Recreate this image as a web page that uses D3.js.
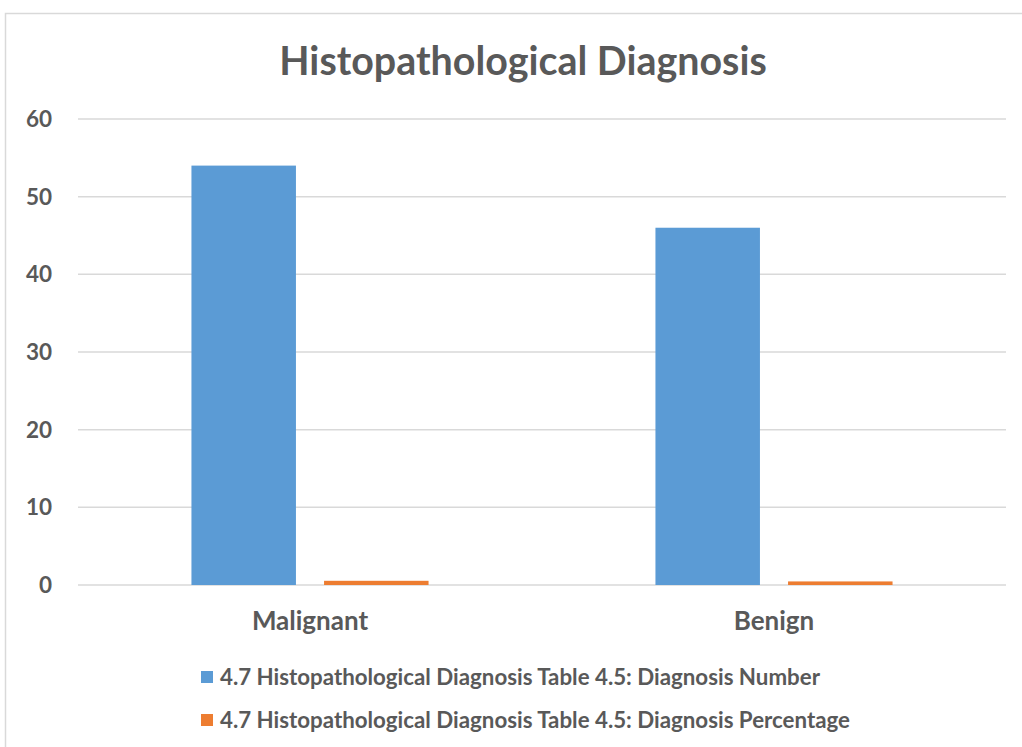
<!DOCTYPE html>
<html>
<head>
<meta charset="utf-8">
<script src="https://cdn.jsdelivr.net/npm/d3@7"></script>
<style>
  body { margin: 0; background: #fff; }
  text { font-family: Lato, "Open Sans", sans-serif; font-weight: bold; fill: #595959; }
</style>
</head>
<body>
<div id="chart"></div>
<script>
var categories = ["Malignant", "Benign"];
var seriesNames = [
    "4.7 Histopathological Diagnosis Table 4.5: Diagnosis Number",
    "4.7 Histopathological Diagnosis Table 4.5: Diagnosis Percentage"
];
var diagnosisNumber = [54, 46];
var diagnosisPercentage = [0.54, 0.46];
var yTicks = [0, 10, 20, 30, 40, 50, 60];
var colors = ["#5B9BD5", "#ED7D31"];

var width = 1022,
    height = 747;

var svg = d3.select("#chart").append("svg")
    .attr("width", width)
    .attr("height", height)

// chart frame
svg.append("rect")
    .attr("x", 5.5).attr("y", 13.5)
    .attr("width", 1030).attr("height", 760)
    .attr("fill", "none")
    .attr("stroke", "#d9d9d9")
    .attr("stroke-width", 1.5)

var plotLeft = 78, plotRight = 1006;

var y = d3.scaleLinear().domain([0, 60]).range([585, 119]);

var x0 = d3.scaleBand()
    .domain(categories)
    .range([plotLeft, plotRight])
    .paddingInner(0.489)
    .paddingOuter(0.2445);

var x1 = d3.scaleBand()
    .domain([0, 1])
    .range([0, x0.bandwidth()])
    .paddingInner(0.212)
    .paddingOuter(0);

// gridlines
svg.selectAll(".grid")
    .data(yTicks)
    .enter().append("line")
    .attr("class", "grid")
    .attr("x1", plotLeft).attr("x2", plotRight)
    .attr("y1", function (d) { return y(d) })
    .attr("y2", function (d) { return y(d) })
    .attr("stroke", "#d9d9d9")
    .attr("stroke-width", 1.5)

// y labels
svg.selectAll(".ylab")
    .data(yTicks)
    .enter().append("text")
    .attr("class", "ylab")
    .attr("x", 52)
    .attr("y", function (d) { return y(d) })
    .attr("dy", "0.35em")
    .attr("text-anchor", "end")
    .style("font-size", "22.5px")
    .text(function (d) { return d })

var rows = categories.map(function (c, i) {
    return { cat: c, values: [diagnosisNumber[i], diagnosisPercentage[i]] };
});

var groups = svg.selectAll(".group")
    .data(rows)
    .enter().append("g")
    .attr("class", "group")
    .attr("transform", function (d) { return "translate(" + x0(d.cat) + ",0)" })

groups.selectAll("rect")
    .data(function (d) { return d.values })
    .enter().append("rect")
    .attr("x", function (d, i) { return x1(i) })
    .attr("width", x1.bandwidth())
    .attr("y", function (d) { return y(d) })
    .attr("height", function (d) { return y(0) - y(d) })
    .attr("fill", function (d, i) { return colors[i] })

// category labels
svg.selectAll(".xlab")
    .data(categories)
    .enter().append("text")
    .attr("class", "xlab")
    .attr("x", function (d) { return x0(d) + x0.bandwidth() / 2 })
    .attr("y", 630)
    .attr("text-anchor", "middle")
    .style("font-size", "26px")
    .text(function (d) { return d })

// title
svg.append("text")
    .attr("x", 523)
    .attr("y", 75)
    .attr("text-anchor", "middle")
    .style("font-size", "39.4px")
    .text("Histopathological Diagnosis")

// legend
var legend = svg.selectAll(".legend")
    .data(seriesNames)
    .enter().append("g")
    .attr("class", "legend")
    .attr("transform", function (d, i) { return "translate(201," + (677 + i * 43) + ")" })

legend.append("rect")
    .attr("x", 0).attr("y", -6)
    .attr("width", 12).attr("height", 12)
    .attr("fill", function (d, i) { return colors[i] })

legend.append("text")
    .attr("x", 19)
    .attr("dy", "0.35em")
    .style("font-size", "22.3px")
    .text(function (d) { return d })
</script>
</body>
</html>
